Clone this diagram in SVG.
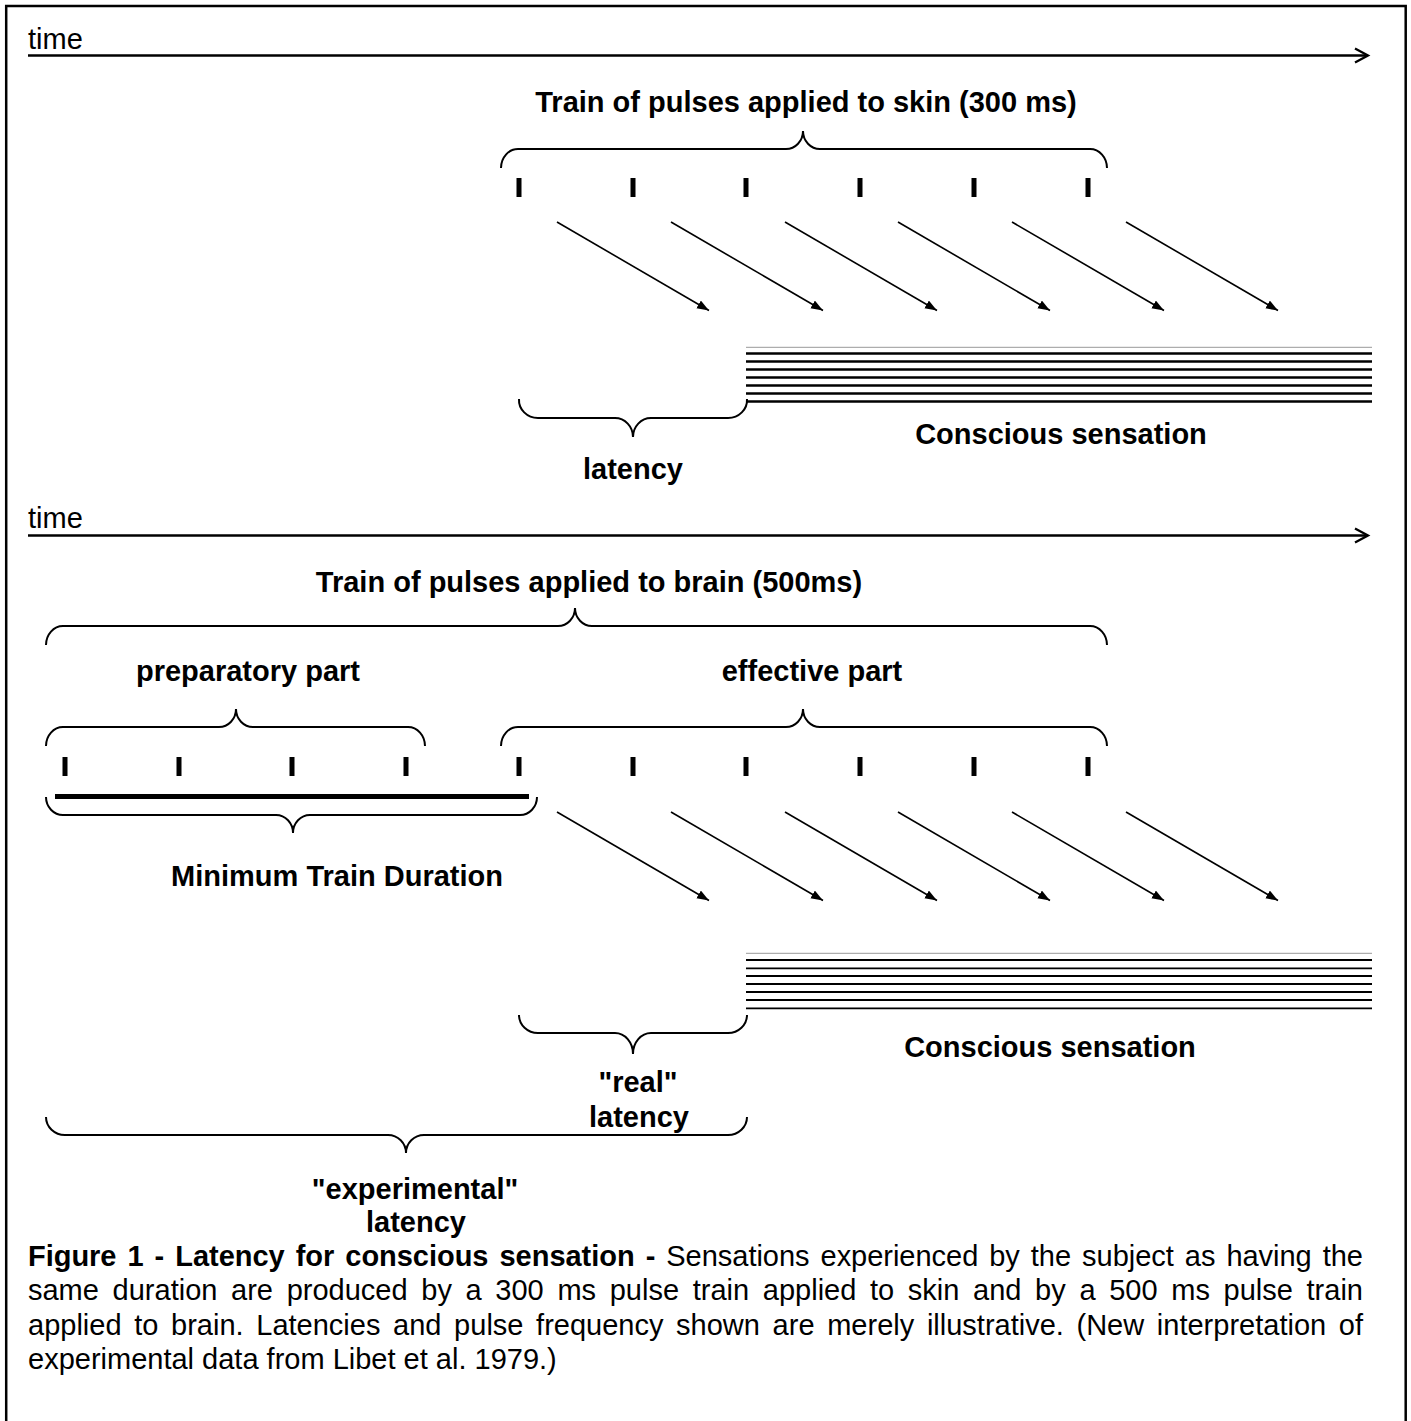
<svg xmlns="http://www.w3.org/2000/svg" width="1411" height="1421" viewBox="0 0 1411 1421">
<style>
text{font-family:"Liberation Sans",Arial,sans-serif;font-size:29px;fill:#000}
.b{font-weight:bold}
.m{text-anchor:middle}
.br{fill:none;stroke:#000;stroke-width:2}
.ax{fill:none;stroke:#000;stroke-width:2.3}
.ar{stroke:#000;stroke-width:1.6;marker-end:url(#ah)}
.tk{fill:#000}
.s1{stroke:#000;stroke-width:2.6}
.s2{stroke:#000;stroke-width:1.8}
.g{stroke:#999;stroke-width:1}
</style>
<defs>
<marker id="ah" markerUnits="userSpaceOnUse" markerWidth="13" markerHeight="10" refX="12" refY="4.5" orient="auto"><path d="M0,0 L12,4.5 L0,9 z" fill="#000"/></marker>
</defs>
<rect width="1411" height="1421" fill="#fff"/>
<rect x="6.2" y="6" width="1399.5" height="1500" fill="none" stroke="#000" stroke-width="2.5"/>

<g id="top-section">
  <g id="time-axis-1">
    <text x="28" y="49">time</text>
    <line class="ax" x1="28" y1="55.5" x2="1367" y2="55.5"/>
    <path class="ax" d="M1355,48.5 L1368,55.5 L1355,62.5"/>
  </g>
  <g id="skin-train">
    <text class="b m" x="806" y="112">Train of pulses applied to skin (300 ms)</text>
    <path class="br" d="M501,168 A17,19 0 0 1 518,149 L786,149 A17,18 0 0 0 803,131 A17,18 0 0 0 820,149 L1090,149 A17,19 0 0 1 1107,168"/>
  </g>
  <g id="skin-pulses">
    <rect class="tk" x="516.5" y="178" width="5" height="19"/>
    <rect class="tk" x="630.5" y="178" width="5" height="19"/>
    <rect class="tk" x="743.5" y="178" width="5" height="19"/>
    <rect class="tk" x="857.5" y="178" width="5" height="19"/>
    <rect class="tk" x="971.5" y="178" width="5" height="19"/>
    <rect class="tk" x="1085.5" y="178" width="5" height="19"/>
  </g>
  <g id="sensation-1">
    <line class="g" x1="746" y1="347.3" x2="1372" y2="347.3"/>
    <line class="s1" x1="746" y1="353.5" x2="1372" y2="353.5"/>
    <line class="s1" x1="746" y1="361.5" x2="1372" y2="361.5"/>
    <line class="s1" x1="746" y1="369.5" x2="1372" y2="369.5"/>
    <line class="s1" x1="746" y1="377.5" x2="1372" y2="377.5"/>
    <line class="s1" x1="746" y1="385.5" x2="1372" y2="385.5"/>
    <line class="s1" x1="746" y1="393.5" x2="1372" y2="393.5"/>
    <line class="s1" x1="746" y1="401.5" x2="1372" y2="401.5"/>
    <text class="b m" x="1061" y="444">Conscious sensation</text>
  </g>
  <g id="latency-1">
    <path class="br" d="M519,399 A19,18 0 0 0 538,418 L615,418 A18,19 0 0 1 633,437 A18,19 0 0 1 651,418 L728,418 A19,18 0 0 0 747,399"/>
    <text class="b m" x="633" y="479">latency</text>
  </g>
</g>

<g id="bottom-section">
  <g id="time-axis-2">
    <text x="28" y="528">time</text>
    <line class="ax" x1="28" y1="535.5" x2="1367" y2="535.5"/>
    <path class="ax" d="M1355,528.5 L1368,535.5 L1355,542.5"/>
  </g>
  <g id="brain-train">
    <text class="b m" x="589" y="592">Train of pulses applied to brain (500ms)</text>
    <path class="br" d="M46,645 A17,19 0 0 1 63,626 L558,626 A17,18 0 0 0 575,608 A17,18 0 0 0 592,626 L1090,626 A17,19 0 0 1 1107,645"/>
  </g>
  <g id="preparatory-part">
    <text class="b m" x="248" y="681">preparatory part</text>
    <path class="br" d="M46,746 A17,19 0 0 1 63,727 L219,727 A17,18 0 0 0 236,709 A17,18 0 0 0 253,727 L408,727 A17,19 0 0 1 425,746"/>
  </g>
  <g id="effective-part">
    <text class="b m" x="812" y="681">effective part</text>
    <path class="br" d="M501,746 A17,19 0 0 1 518,727 L786,727 A17,18 0 0 0 803,709 A17,18 0 0 0 820,727 L1090,727 A17,19 0 0 1 1107,746"/>
  </g>
  <g id="brain-pulses">
    <rect class="tk" x="62.5" y="757" width="5" height="19"/>
    <rect class="tk" x="176.5" y="757" width="5" height="19"/>
    <rect class="tk" x="289.5" y="757" width="5" height="19"/>
    <rect class="tk" x="403.5" y="757" width="5" height="19"/>
    <rect class="tk" x="516.5" y="757" width="5" height="19"/>
    <rect class="tk" x="630.5" y="757" width="5" height="19"/>
    <rect class="tk" x="743.5" y="757" width="5" height="19"/>
    <rect class="tk" x="857.5" y="757" width="5" height="19"/>
    <rect class="tk" x="971.5" y="757" width="5" height="19"/>
    <rect class="tk" x="1085.5" y="757" width="5" height="19"/>
  </g>
  <g id="minimum-train">
    <line x1="55" y1="796.5" x2="529" y2="796.5" stroke="#000" stroke-width="5"/>
    <path class="br" d="M46,797 A17,18 0 0 0 63,815 L276,815 A17,18 0 0 1 293,833 A17,18 0 0 1 310,815 L520,815 A17,18 0 0 0 537,797"/>
    <text class="b m" x="337" y="886">Minimum Train Duration</text>
  </g>
  <g id="sensation-2">
    <line class="g" x1="746" y1="953.3" x2="1372" y2="953.3"/>
    <line class="s2" x1="746" y1="960" x2="1372" y2="960"/>
    <line class="s2" x1="746" y1="968.3" x2="1372" y2="968.3"/>
    <line class="s2" x1="746" y1="976" x2="1372" y2="976"/>
    <line class="s2" x1="746" y1="984" x2="1372" y2="984"/>
    <line class="s2" x1="746" y1="992" x2="1372" y2="992"/>
    <line class="s2" x1="746" y1="1000" x2="1372" y2="1000"/>
    <line class="s2" x1="746" y1="1008.3" x2="1372" y2="1008.3"/>
    <text class="b m" x="1050" y="1057">Conscious sensation</text>
  </g>
  <g id="real-latency">
    <path class="br" d="M519,1015 A19,18 0 0 0 538,1033 L615,1033 A18,21 0 0 1 633,1054 A18,21 0 0 1 651,1033 L728,1033 A19,18 0 0 0 747,1015"/>
    <text class="b m" x="638" y="1092">"real"</text>
    <text class="b m" x="639" y="1127">latency</text>
  </g>
  <g id="experimental-latency">
    <path class="br" d="M46,1117 A19,18 0 0 0 65,1135 L388,1135 A18,18 0 0 1 406,1153 A18,18 0 0 1 424,1135 L728,1135 A19,18 0 0 0 747,1117"/>
    <text class="b m" x="415" y="1199">"experimental"</text>
    <text class="b m" x="416" y="1232">latency</text>
  </g>
</g>

<g id="connectors">
  <line class="ar" x1="557" y1="222" x2="709" y2="310.5"/>
  <line class="ar" x1="671" y1="222" x2="823" y2="310.5"/>
  <line class="ar" x1="785" y1="222" x2="937" y2="310.5"/>
  <line class="ar" x1="898" y1="222" x2="1050" y2="310.5"/>
  <line class="ar" x1="1012" y1="222" x2="1164" y2="310.5"/>
  <line class="ar" x1="1126" y1="222" x2="1278" y2="310.5"/>
  <line class="ar" x1="557" y1="812" x2="709" y2="900.5"/>
  <line class="ar" x1="671" y1="812" x2="823" y2="900.5"/>
  <line class="ar" x1="785" y1="812" x2="937" y2="900.5"/>
  <line class="ar" x1="898" y1="812" x2="1050" y2="900.5"/>
  <line class="ar" x1="1012" y1="812" x2="1164" y2="900.5"/>
  <line class="ar" x1="1126" y1="812" x2="1278" y2="900.5"/>
</g>

<g id="caption">
  <text x="28" y="1266" word-spacing="3" textLength="1335" lengthAdjust="spacing"><tspan class="b">Figure 1 - Latency for conscious sensation -</tspan> Sensations experienced by the subject as having the</text>
  <text x="28" y="1300" word-spacing="5.6" textLength="1335" lengthAdjust="spacing">same duration are produced by a 300 ms pulse train applied to skin and by a 500 ms pulse train</text>
  <text x="28" y="1335" word-spacing="4.6" textLength="1335" lengthAdjust="spacing">applied to brain. Latencies and pulse frequency shown are merely illustrative. (New interpretation of</text>
  <text x="28" y="1369">experimental data from Libet et al. 1979.)</text>
</g>
</svg>
